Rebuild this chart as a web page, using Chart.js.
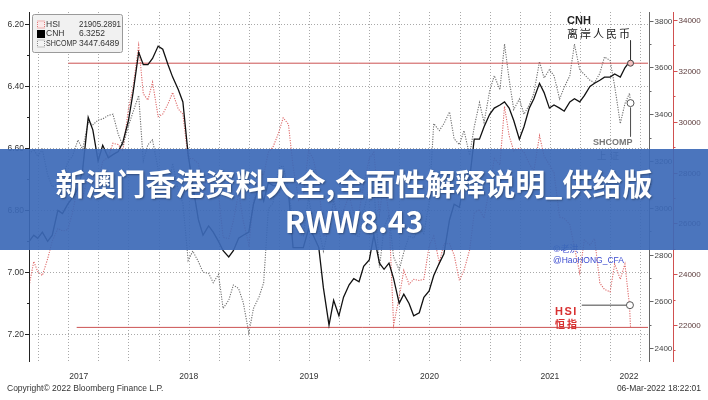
<!DOCTYPE html>
<html>
<head>
<meta charset="utf-8">
<script src="https://cdn.jsdelivr.net/npm/chart.js"></script>
<style>
html, body { margin: 0; padding: 0; background: #fff; }
#wrap { position: relative; width: 708px; height: 400px; }
</style>
</head>
<body>
<div id="wrap"><canvas id="bbgChart" width="708" height="400"></canvas></div>
<script>
// semi-monthly sample dates
const dates = [
  '2017-03-06','2017-03-20','2017-04-01','2017-04-15','2017-05-01','2017-05-15','2017-06-01','2017-06-15','2017-07-01','2017-07-15',
  '2017-08-01','2017-08-15','2017-09-01','2017-09-15','2017-10-01','2017-10-15','2017-11-01','2017-11-15','2017-12-01','2017-12-15',
  '2018-01-01','2018-01-15','2018-02-01','2018-02-15','2018-03-01','2018-03-15','2018-04-01','2018-04-15','2018-05-01','2018-05-15','2018-06-01','2018-06-15',
  '2018-07-01','2018-07-15','2018-08-01','2018-08-15','2018-09-01','2018-09-15','2018-10-01','2018-10-15','2018-11-01','2018-11-15','2018-12-01','2018-12-15',
  '2019-01-01','2019-01-15','2019-02-01','2019-02-15','2019-03-01','2019-03-15','2019-04-01','2019-04-15','2019-05-01','2019-05-15','2019-06-01','2019-06-15',
  '2019-07-01','2019-07-15','2019-08-01','2019-08-15','2019-09-01','2019-09-15','2019-10-01','2019-10-15','2019-11-01','2019-11-15','2019-12-01','2019-12-15',
  '2020-01-01','2020-01-15','2020-02-01','2020-02-15','2020-03-01','2020-03-15','2020-04-01','2020-04-15','2020-05-01','2020-05-15','2020-06-01','2020-06-15',
  '2020-07-01','2020-07-15','2020-08-01','2020-08-15','2020-09-01','2020-09-15','2020-10-01','2020-10-15','2020-11-01','2020-11-15','2020-12-01','2020-12-15',
  '2021-01-01','2021-01-15','2021-02-01','2021-02-15','2021-03-01','2021-03-15','2021-04-01','2021-04-15','2021-05-01','2021-05-15','2021-06-01','2021-06-15',
  '2021-07-01','2021-07-15','2021-08-01','2021-08-15','2021-09-01','2021-09-15','2021-10-01','2021-10-15','2021-11-01','2021-11-15','2021-12-01','2021-12-15',
  '2022-01-01','2022-01-15','2022-02-01','2022-02-15','2022-03-01','2022-03-04'
];

const cnh = [
  6.90,6.88,6.89,6.87,6.90,6.88,6.80,6.81,6.78,6.76,6.73,6.67,6.50,6.54,6.64,6.59,6.63,6.62,6.61,6.58,
  6.51,6.42,6.29,6.33,6.33,6.31,6.27,6.28,6.33,6.37,6.41,6.45,6.62,6.72,6.83,6.88,6.85,6.87,6.90,6.93,6.95,6.93,6.89,6.88,
  6.87,6.78,6.72,6.77,6.71,6.72,6.72,6.72,6.74,6.92,6.92,6.92,6.86,6.88,6.92,7.05,7.17,7.09,7.14,7.08,7.04,7.02,7.03,6.98,
  6.96,6.88,6.97,6.99,6.97,7.02,7.10,7.07,7.10,7.14,7.13,7.08,7.06,7.01,6.97,6.94,6.83,6.78,6.79,6.71,6.70,6.57,6.57,6.53,
  6.49,6.47,6.46,6.45,6.47,6.51,6.57,6.53,6.47,6.44,6.39,6.42,6.47,6.46,6.47,6.48,6.45,6.44,6.45,6.43,6.40,6.39,6.38,6.37,
  6.37,6.36,6.37,6.34,6.32,6.3252
];

const hsi = [
  23550,24500,24100,23950,24600,25300,25800,25700,25750,26400,27500,27000,27900,27800,27600,28450,28600,29150,29100,28850,
  30500,31350,33000,31100,30850,31550,30200,30300,30700,31150,30500,30300,28550,28550,28350,27300,27950,27300,27150,25450,25400,26100,27200,26100,
  25150,26850,27950,27900,28800,29000,29550,30150,29900,28250,26900,27100,28850,28550,27550,25500,25600,27000,26050,26500,27100,26350,26450,27500,
  28550,28800,26350,27800,26300,22000,23100,24150,23600,23800,23750,23800,25100,25500,24450,25200,25200,24750,23750,24150,24950,26400,26550,26200,
  27450,28550,28300,30600,29450,28850,28950,28800,28350,28050,29450,28650,28300,28000,26250,26200,25950,25050,24050,25350,25150,25400,23650,23400,
  23300,24400,23800,24400,22750,21905
];

const shcomp = [
  3230,3250,3220,3250,3140,3090,3100,3130,3195,3220,3290,3250,3365,3355,3375,3380,3395,3400,3315,3265,
  3350,3410,3480,3200,3270,3290,3165,3110,3080,3190,3075,3020,2775,2815,2770,2725,2720,2680,2715,2570,2605,2670,2655,2595,
  2465,2570,2620,2680,2995,3020,3170,3180,3080,2940,2890,2880,3045,2940,2910,2815,2925,3030,2915,2990,2960,2890,2875,2985,
  3085,3090,2745,2915,2970,2790,2735,2810,2880,2870,2915,2890,3025,3360,3330,3360,3410,3295,3270,3330,3225,3345,3450,3365,
  3500,3565,3505,3700,3550,3420,3465,3400,3440,3490,3625,3555,3590,3565,3465,3515,3565,3700,3590,3570,3545,3535,3575,3645,
  3630,3520,3360,3445,3490,3448
];

const seriesNames = ['HSI', 'CNH', 'SHCOMP'];
const lastValues = ['21905.2891', '6.3252', '3447.6489'];

const cnhTicks = [6.20, 6.40, 6.60, 6.80, 7.00, 7.20];
const shTicks = [2400, 2600, 2800, 3000, 3200, 3400, 3600, 3800];
const hsiTicks = [22000, 24000, 26000, 28000, 30000, 32000, 34000];
const yearLabels = ['2017', '2018', '2019', '2020', '2021', '2022'];

// horizontal red reference levels
const cnhRef = 6.3252;
const hsiRef = 21905.2891;

function toYear(s) {
  const d = new Date(s + 'T00:00:00Z');
  const y = d.getUTCFullYear();
  const a = Date.UTC(y, 0, 1), b = Date.UTC(y + 1, 0, 1);
  return y + (d.getTime() - a) / (b - a);
}

const xs = dates.map(toYear);
const xMin = 2017.174, xMax = 2022.315;
const lastX = xs[xs.length - 1];

const quarterLines = [];
yearLabels.forEach(y => { [0, 0.25, 0.5, 0.75].forEach(q => quarterLines.push(+y + q)); });

const FONT = '"Liberation Sans", Arial, sans-serif';
const CJK = '"Noto Sans CJK SC", sans-serif';

function pts(vals) { return vals.map((v, i) => ({ x: xs[i], y: v })); }

function drawLine(ctx, x1, y1, x2, y2) {
  ctx.beginPath(); ctx.moveTo(x1, y1); ctx.lineTo(x2, y2); ctx.stroke();
}

function spaced(ctx, text, x, y, gap) {
  let cx = x;
  for (const ch of text) { ctx.fillText(ch, cx, y); cx += ctx.measureText(ch).width + gap; }
}

const bbgDecor = {
  id: 'bbgDecor',
  beforeDatasetsDraw(chart) {
    const { ctx, chartArea: a, scales } = chart;
    ctx.save();
    ctx.strokeStyle = '#a9a9a9';
    ctx.lineWidth = 1;
    ctx.setLineDash([1, 2]);
    quarterLines.forEach(q => {
      if (q <= xMin || q >= xMax) return;
      const x = Math.round(scales.x.getPixelForValue(q)) + 0.5;
      drawLine(ctx, x, a.top, x, a.bottom);
    });
    cnhTicks.forEach(v => {
      const y = Math.round(scales.yCnh.getPixelForValue(v)) + 0.5;
      drawLine(ctx, a.left, y, a.right, y);
    });
    ctx.restore();
  },
  afterDraw(chart) {
    const { ctx, chartArea: a, scales } = chart;
    ctx.save();
    ctx.setLineDash([]);

    // left CNH axis
    ctx.strokeStyle = '#222'; ctx.lineWidth = 1;
    drawLine(ctx, a.left + 0.5, a.top, a.left + 0.5, a.bottom);
    ctx.font = '8.5px ' + FONT; ctx.fillStyle = '#333';
    ctx.textAlign = 'right'; ctx.textBaseline = 'middle';
    cnhTicks.forEach((v, i) => {
      const y = Math.round(scales.yCnh.getPixelForValue(v)) + 0.5;
      drawLine(ctx, a.left - 4, y, a.left, y);
      ctx.fillText(v.toFixed(2), a.left - 5, y);
      if (i < cnhTicks.length - 1) {
        const ym = Math.round(scales.yCnh.getPixelForValue((v + cnhTicks[i + 1]) / 2)) + 0.5;
        drawLine(ctx, a.left - 2, ym, a.left, ym);
      }
    });
    const yLast = Math.round(scales.yCnh.getPixelForValue(7.20 + 0.1)) + 0.5;
    if (yLast < a.bottom) drawLine(ctx, a.left - 2, yLast, a.left, yLast);

    // inner right SHCOMP axis
    const rx = a.right + 1.5;
    ctx.strokeStyle = '#666';
    drawLine(ctx, rx, a.top, rx, a.bottom);
    ctx.textAlign = 'left'; ctx.fillStyle = '#444';
    ctx.font = '8px ' + FONT;
    shTicks.forEach((v, i) => {
      const y = Math.round(scales.ySh.getPixelForValue(v)) + 0.5;
      drawLine(ctx, rx, y, rx + 4, y);
      ctx.fillText(String(v), rx + 5, y);
      if (i < shTicks.length - 1) {
        const ym = Math.round(scales.ySh.getPixelForValue((v + shTicks[i + 1]) / 2)) + 0.5;
        drawLine(ctx, rx, ym, rx + 2, ym);
      }
    });

    // outer right HSI axis
    const hx = a.right + 25.5;
    ctx.strokeStyle = '#d05050';
    drawLine(ctx, hx, a.top, hx, a.bottom);
    ctx.fillStyle = '#5a3a3a';
    hsiTicks.forEach((v, i) => {
      const y = Math.round(scales.yHsi.getPixelForValue(v)) + 0.5;
      drawLine(ctx, hx, y, hx + 4, y);
      ctx.fillText(String(v), hx + 5, y);
      if (i < hsiTicks.length - 1) {
        const ym = Math.round(scales.yHsi.getPixelForValue((v + hsiTicks[i + 1]) / 2)) + 0.5;
        drawLine(ctx, hx, ym, hx + 2, ym);
      }
    });
    const ym0 = Math.round(scales.yHsi.getPixelForValue(21000)) + 0.5;
    drawLine(ctx, hx, ym0, hx + 2, ym0);

    // year labels, centred in the visible part of each year
    ctx.fillStyle = '#333'; ctx.textAlign = 'center';
    ctx.font = '8.5px ' + FONT;
    yearLabels.forEach(y => {
      const s = Math.max(xMin, +y), e = Math.min(xMax, +y + 1);
      const x = scales.x.getPixelForValue((s + e) / 2);
      ctx.fillText(y, x, 377);
    });

    // footer
    ctx.textAlign = 'left';
    ctx.fillText('Copyright\u00a9 2022 Bloomberg Finance L.P.', 7, 389);
    ctx.textAlign = 'right';
    ctx.fillText('06-Mar-2022 18:22:01', 701, 389);

    // legend box
    ctx.fillStyle = '#f1f1f1'; ctx.strokeStyle = '#9a9a9a'; ctx.lineWidth = 1;
    ctx.beginPath(); ctx.roundRect(32.5, 14.5, 90, 38, 2); ctx.fill(); ctx.stroke();
    ctx.font = '8.5px ' + FONT; ctx.textAlign = 'left'; ctx.textBaseline = 'middle';
    const iconStyle = [['#e07a7a', true, '#fbeaea'], ['#000', false, '#000'], ['#8a8a8a', true, '#f4f4f4']];
    seriesNames.forEach((n, i) => {
      const y = 24.5 + i * 9.5;
      const st = iconStyle[i];
      ctx.fillStyle = st[2];
      ctx.fillRect(37, y - 4, 8, 8);
      if (st[1]) { ctx.setLineDash([1, 1]); ctx.strokeStyle = st[0]; ctx.strokeRect(37.5, y - 3.5, 7, 7); ctx.setLineDash([]); }
      ctx.fillStyle = '#333';
      ctx.fillText(n, 46, y, 31);
      ctx.fillText(lastValues[i], 79, y, 42);
    });

    // annotations
    ctx.textBaseline = 'middle'; ctx.textAlign = 'left';
    ctx.fillStyle = '#222'; ctx.font = 'bold 11px ' + FONT;
    ctx.fillText('CNH', 567, 21);
    ctx.font = '11px ' + CJK;
    spaced(ctx, '离岸人民币', 567, 34, 2);
    ctx.fillStyle = '#777'; ctx.font = 'bold 9px ' + FONT;
    ctx.fillText('SHCOMP', 593, 143);
    ctx.font = '9.5px ' + CJK;
    spaced(ctx, '上证', 597, 155, 3);
    ctx.fillStyle = '#d83030'; ctx.font = 'bold 11px ' + FONT;
    spaced(ctx, 'HSI', 555, 312, 1.5);
    ctx.font = 'bold 10px ' + CJK;
    spaced(ctx, '恒指', 555, 324, 2);
    ctx.fillStyle = '#3a4ad0'; ctx.font = '9px ' + CJK;
    ctx.fillText('\u00a9老洪', 553, 249);
    ctx.font = '8.5px ' + FONT;
    ctx.fillText('@HaoHONG_CFA', 553, 261);

    // banner
    ctx.fillStyle = 'rgba(60, 105, 183, 0.92)';
    ctx.fillRect(0, 149, 708, 101);
    ctx.fillStyle = '#fff';
    ctx.textAlign = 'center';
    ctx.font = 'bold 30px ' + CJK;
    ctx.shadowColor = 'rgba(0,0,0,0.35)'; ctx.shadowBlur = 2; ctx.shadowOffsetX = 1; ctx.shadowOffsetY = 1;
    ctx.fillText('新澳门香港资料大全,全面性解释说明_供给版', 354, 184);
    ctx.fillText('RWW8.43', 354, 222);
    ctx.restore();
  }
};

const ctx = document.getElementById('bbgChart').getContext('2d');
const bbgChart = new Chart(ctx, {
  type: 'line',
  data: {
    datasets: [
      { label: 'cnhMark', data: [{ x: lastX, y: cnhRef }], yAxisID: 'yCnh', showLine: false,
        pointRadius: 3, pointBackgroundColor: '#f3c0c0', pointBorderColor: '#444', pointBorderWidth: 1 },
      { label: 'shMark', data: [{ x: lastX, y: 3447.6489 }], yAxisID: 'ySh', showLine: false,
        pointRadius: 3.5, pointBackgroundColor: '#fff', pointBorderColor: '#555', pointBorderWidth: 1 },
      { label: 'hsiMark', data: [{ x: 2022.165, y: 22780 }], yAxisID: 'yHsi', showLine: false,
        pointRadius: 3.5, pointBackgroundColor: '#fff', pointBorderColor: '#555', pointBorderWidth: 1 },
      { label: 'cnhLead', data: [{ x: lastX, y: 6.252 }, { x: lastX, y: 6.316 }], yAxisID: 'yCnh',
        borderColor: '#333', borderWidth: 1, pointRadius: 0 },
      { label: 'shLead', data: [{ x: lastX, y: 3428 }, { x: lastX, y: 3305 }], yAxisID: 'ySh',
        borderColor: '#555', borderWidth: 1, pointRadius: 0 },
      { label: 'hsiLead', data: [{ x: 2021.765, y: 22780 }, { x: 2022.14, y: 22780 }], yAxisID: 'yHsi',
        borderColor: '#444', borderWidth: 1, pointRadius: 0 },
      { label: 'CNH', data: pts(cnh), yAxisID: 'yCnh', borderColor: '#111', borderWidth: 1.3, pointRadius: 0 },
      { label: 'cnhRef', data: [{ x: 2017.5, y: cnhRef }, { x: xMax, y: cnhRef }], yAxisID: 'yCnh',
        borderColor: '#cc5252', borderWidth: 1, pointRadius: 0 },
      { label: 'hsiRef', data: [{ x: 2017.57, y: hsiRef }, { x: xMax, y: hsiRef }], yAxisID: 'yHsi',
        borderColor: '#cc5252', borderWidth: 1, pointRadius: 0 },
      { label: 'SHCOMP', data: pts(shcomp), yAxisID: 'ySh', borderColor: '#6f6f6f', borderWidth: 1.1,
        borderDash: [1.2, 1.3], pointRadius: 0 },
      { label: 'HSI', data: pts(hsi), yAxisID: 'yHsi', borderColor: '#de6a6a', borderWidth: 1.1,
        borderDash: [1.2, 1.3], pointRadius: 0 }
    ]
  },
  options: {
    responsive: false,
    animation: false,
    layout: { padding: { left: 29, right: 60, top: 12, bottom: 38 } },
    elements: { line: { tension: 0 } },
    plugins: { legend: { display: false }, tooltip: { enabled: false } },
    scales: {
      x: { type: 'linear', min: xMin, max: xMax, display: false },
      yCnh: { type: 'linear', reverse: true, min: 6.16, max: 7.289, display: false },
      ySh: { type: 'linear', min: 2341, max: 3837, display: false },
      yHsi: { type: 'linear', min: 20544, max: 34315, display: false }
    }
  },
  plugins: [bbgDecor]
});
</script>
</body>
</html>
